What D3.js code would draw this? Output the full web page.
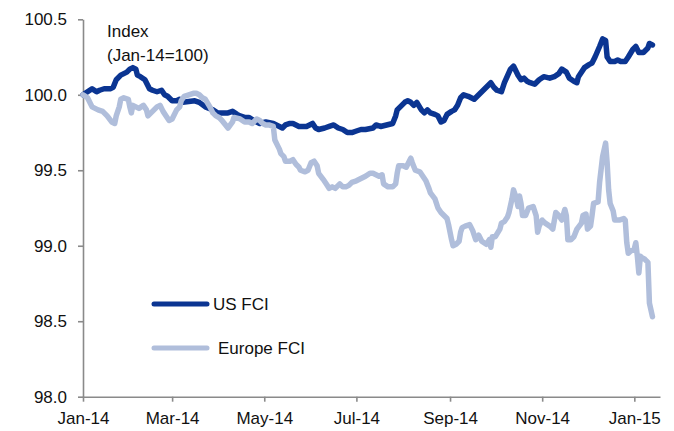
<!DOCTYPE html>
<html>
<head>
<meta charset="utf-8">
<script src="https://cdn.jsdelivr.net/npm/d3@7"></script>
<style>
  html, body { margin: 0; padding: 0; background: #fff; }
  svg { display: block; font-family: "Liberation Sans", Arial, sans-serif; }
</style>
</head>
<body>
<div id="chart"></div>
<script>
// Days since 1 Jan 2014 and index values
const usDays = [0,6,9,11,14,18,20,22,25,29,31,33,35,36,38,41,44,46,49,52,54,56,59,62,64,66,74,77,81,86,89,92,96,99,102,104,107,110,113,117,121,126,128,130,132,134,137,139,141,143,145,148,150,152,154,156,160,163,166,169,172,175,178,181,184,187,192,194,197,201,205,207,208,210,213,215,217,219,221,224,226,228,230,233,235,237,239,241,244,246,248,250,252,255,257,259,261,263,266,268,270,272,274,277,279,283,285,288,290,292,294,296,299,302,305,309,312,315,317,320,322,325,327,328,332,335,337,339,342,344,346,347,349,352,354,356,359,361,364,366,368,371,374,375,377];
const usVals = [100.00,100.04,100.02,100.03,100.04,100.04,100.05,100.10,100.13,100.15,100.17,100.18,100.17,100.13,100.12,100.10,100.04,100.03,100.02,100.03,100.00,99.99,99.96,99.96,99.97,99.95,99.96,99.95,99.92,99.90,99.88,99.88,99.88,99.89,99.87,99.86,99.85,99.85,99.83,99.81,99.82,99.81,99.80,99.79,99.78,99.80,99.81,99.81,99.80,99.79,99.79,99.79,99.80,99.81,99.78,99.77,99.78,99.79,99.80,99.78,99.77,99.75,99.75,99.76,99.77,99.77,99.78,99.80,99.79,99.80,99.81,99.86,99.90,99.92,99.95,99.96,99.95,99.93,99.95,99.90,99.88,99.90,99.88,99.87,99.86,99.82,99.83,99.87,99.89,99.90,99.93,99.98,100.00,99.99,99.98,99.97,99.99,100.01,100.04,100.06,100.08,100.05,100.03,100.02,100.08,100.17,100.19,100.13,100.10,100.11,100.09,100.08,100.07,100.10,100.12,100.11,100.12,100.14,100.17,100.15,100.11,100.09,100.08,100.12,100.18,100.20,100.21,100.25,100.32,100.37,100.36,100.25,100.22,100.22,100.23,100.22,100.22,100.25,100.30,100.32,100.28,100.28,100.31,100.34,100.33];

const euDays = [0,3,6,10,13,16,19,21,22,24,25,27,30,31,32,33,35,37,40,42,43,45,47,49,51,53,55,57,59,62,64,65,67,70,73,75,77,79,81,84,86,88,90,92,96,99,100,104,107,110,112,115,117,119,121,123,126,127,129,130,131,133,134,137,139,141,143,144,147,149,151,153,155,156,159,161,163,165,167,170,172,174,176,178,181,183,185,187,190,192,194,196,198,199,202,205,207,208,209,212,214,216,217,218,220,223,225,227,229,230,233,235,237,239,241,242,244,245,247,249,250,251,253,256,258,260,262,264,267,269,270,271,273,276,277,279,281,282,284,285,287,288,289,290,291,293,295,298,300,301,302,304,306,309,311,313,315,317,319,320,321,323,325,327,330,331,333,334,336,337,338,341,342,344,346,347,348,349,351,352,355,358,359,360,361,362,365,366,367,368,369,370,372,374,375,377];
const euVals = [100.00,99.98,99.92,99.90,99.89,99.86,99.82,99.81,99.86,99.92,99.97,99.98,99.97,99.92,99.88,99.93,99.92,99.91,99.93,99.90,99.86,99.88,99.90,99.92,99.93,99.89,99.86,99.83,99.84,99.90,99.92,99.96,99.99,100.00,100.01,100.01,100.00,99.98,99.97,99.92,99.88,99.86,99.85,99.83,99.78,99.82,99.85,99.84,99.82,99.82,99.81,99.84,99.83,99.81,99.80,99.80,99.79,99.70,99.66,99.64,99.61,99.59,99.56,99.56,99.57,99.54,99.52,99.50,99.49,99.50,99.55,99.56,99.53,99.48,99.44,99.41,99.38,99.39,99.38,99.41,99.39,99.39,99.40,99.42,99.43,99.44,99.45,99.46,99.48,99.48,99.47,99.46,99.47,99.41,99.39,99.39,99.41,99.48,99.53,99.53,99.52,99.56,99.58,99.55,99.50,99.49,99.46,99.43,99.38,99.35,99.31,99.25,99.22,99.20,99.18,99.14,99.04,99.00,99.01,99.03,99.09,99.12,99.13,99.14,99.10,99.04,99.07,99.03,99.01,99.04,98.99,99.06,99.06,99.11,99.15,99.16,99.19,99.22,99.31,99.37,99.31,99.26,99.33,99.28,99.20,99.20,99.25,99.26,99.20,99.09,99.13,99.17,99.15,99.13,99.11,99.22,99.20,99.17,99.24,99.20,99.04,99.04,99.06,99.11,99.15,99.20,99.21,99.11,99.13,99.20,99.28,99.29,99.42,99.59,99.68,99.55,99.37,99.28,99.23,99.17,99.17,99.18,99.17,99.02,98.95,98.96,98.98,99.02,98.93,98.82,98.93,98.92,98.91,98.89,98.62,98.53];

const yTicks = [98.0, 98.5, 99.0, 99.5, 100.0, 100.5];
const seriesNames = ['US FCI', 'Europe FCI'];
const titleLines = ['Index', '(Jan-14=100)'];

const W = 674, H = 431;
const FONT = 17;
const start = new Date(2014, 0, 1);
const toDate = d => d3.timeDay.offset(start, d);

const x = d3.scaleTime()
  .domain([start, new Date(2015, 0, 18)])
  .range([83, 660]);
const y = d3.scaleLinear().domain([98, 100.5]).range([396.7, 19.3]);

const svg = d3.select('#chart').append('svg')
  .attr('width', W).attr('height', H);

const AXIS = '#8a8a8a', TXT = '#111';

// Y axis
const gy = svg.append('g')
  .attr('transform', `translate(${x.range()[0]},0)`)
  .call(d3.axisLeft(y).tickValues(yTicks).tickFormat(d3.format('.1f'))
    .tickSize(5).tickPadding(11).tickSizeOuter(0));

// X axis
const gx = svg.append('g')
  .attr('transform', `translate(0,${y(98)})`)
  .call(d3.axisBottom(x).ticks(d3.timeMonth.every(2))
    .tickFormat(d3.timeFormat('%b-%y')).tickSize(5).tickPadding(10).tickSizeOuter(0));

[gx, gy].forEach(g => {
  g.selectAll('path, line').attr('stroke', AXIS).attr('stroke-width', 1.6);
  g.selectAll('text').attr('fill', TXT).attr('font-size', FONT)
    .attr('font-family', '"Liberation Sans", Arial, sans-serif');
});

// Title
svg.append('text')
  .attr('x', 107).attr('y', 37)
  .attr('font-size', FONT).attr('fill', TXT)
  .selectAll('tspan').data(titleLines).join('tspan')
  .attr('x', 107).attr('dy', (d, i) => i ? 23.5 : 0)
  .text(d => d);

// Lines
const line = d3.line().x(d => x(d.date)).y(d => y(d.v));
const us = usDays.map((d, i) => ({ date: toDate(d), v: usVals[i] }));
const eu = euDays.map((d, i) => ({ date: toDate(d), v: euVals[i] }));
const colors = ['#0b3592', '#b0bedb'];

[us, eu].forEach((s, i) => {
  svg.append('path').datum(s)
    .attr('d', line)
    .attr('fill', 'none')
    .attr('stroke', colors[i])
    .attr('stroke-width', 5.5)
    .attr('stroke-linejoin', 'round')
    .attr('stroke-linecap', 'round');
});

// Legend
const legend = [
  { name: seriesNames[0], y: 304, tx: 213 },
  { name: seriesNames[1], y: 348, tx: 218 }
];
legend.forEach((l, i) => {
  svg.append('line')
    .attr('x1', 154).attr('x2', 207).attr('y1', l.y).attr('y2', l.y)
    .attr('stroke', colors[i]).attr('stroke-width', 5).attr('stroke-linecap', 'round');
  svg.append('text')
    .attr('x', l.tx).attr('y', l.y + 6)
    .attr('font-size', FONT).attr('fill', TXT)
    .text(l.name);
});
</script>
</body>
</html>
